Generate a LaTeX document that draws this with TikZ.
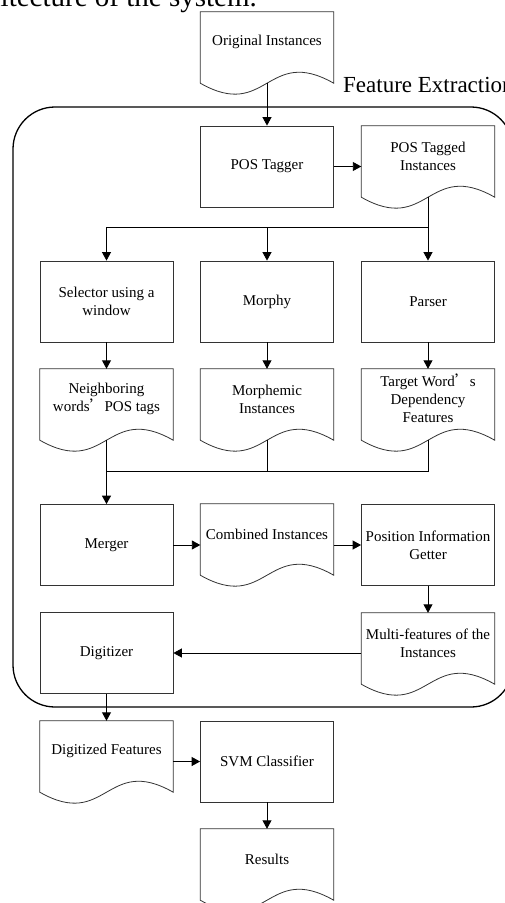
\documentclass[tikz,border=0pt]{standalone}
\usepackage{fontspec}
\setmainfont{Liberation Serif}
\newfontfamily\cjk{Noto Sans CJK SC}
\usetikzlibrary{arrows.meta,calc}
\newcommand{\docshape}[1]{\draw[docline] (#1.north west) -- (#1.north east) -- (#1.south east) .. controls ($(#1.south)+(0,38)$) and ($(#1.south)+(0,-38)$) .. (#1.south west) -- cycle;}
\begin{document}
\begin{tikzpicture}[x=1pt,y=1pt,
  procbox/.style={draw=black!80, line width=0.8pt, minimum width=133pt, minimum height=81pt, inner sep=0pt, align=center, font=\fontsize{15}{18}\selectfont},
  docframe/.style={minimum width=133pt, minimum height=71pt, inner sep=0pt},
  doctext/.style={align=center, inner sep=0pt, font=\fontsize{15}{18}\selectfont},
  docline/.style={draw=black!80, line width=0.8pt},
  conn/.style={line width=0.9pt, -{Triangle[length=8.5pt,width=9pt]}},
  plain/.style={line width=0.9pt},
  group/.style={draw=black, line width=1.3pt, rounded corners=42pt}]
\useasboundingbox (0,0) rectangle (505,-903);
\clip (0,0) rectangle (505,-903);
\fill[white] (0,0) rectangle (505,-903);

% caption fragment
\node[anchor=base east, inner sep=0pt, font=\fontsize{29}{34}\selectfont] (cap) at (257,-6) {architecture of the system.};

% group frame
\draw[group] (13,-107) rectangle (513,-707);
\node[anchor=base west, inner sep=0pt, font=\fontsize{23}{27}\selectfont] (fe) at (343,-92) {Feature Extraction};

% documents
\node[docframe] (orig) at (267,-47.5) {};
\docshape{orig}
\node[doctext] (origt) at (267,-42) {Original Instances};

\node[procbox] (tagger) at (267,-166.5) {POS Tagger};

\node[docframe] (tagged) at (428,-161.5) {};
\docshape{tagged}
\node[doctext] (taggedt) at (428,-156) {POS Tagged\\Instances};

\node[procbox] (selector) at (106.5,-301.5) {Selector using a\\window};
\node[procbox] (morphy) at (267,-301.5) {Morphy};
\node[procbox] (parser) at (428,-301.5) {Parser};

\node[docframe] (neigh) at (106.5,-404.5) {};
\docshape{neigh}
\node[doctext] (neight) at (106.5,-399) {Neighboring\\words{\cjk ’}POS tags};

\node[docframe] (morphemic) at (267,-404.5) {};
\docshape{morphemic}
\node[doctext] (morphemict) at (267,-399) {Morphemic\\Instances};

\node[docframe] (target) at (428,-404.5) {};
\docshape{target}
\node[doctext] (targett) at (428,-398) {Target Word{\cjk ’}s\\Dependency\\Features};

\node[procbox] (merger) at (106.5,-545) {Merger};

\node[docframe] (combined) at (267,-539.5) {};
\docshape{combined}
\node[doctext] (combinedt) at (267,-534) {Combined Instances};

\node[procbox] (position) at (428,-545) {Position Information\\Getter};

\node[procbox] (digitizer) at (106.5,-653) {Digitizer};

\node[docframe] (multi) at (428,-648.5) {};
\docshape{multi}
\node[doctext] (multit) at (428,-643) {Multi-features of the\\Instances};

\node[docframe] (digitized) at (106.5,-756.5) {};
\docshape{digitized}
\node[doctext] (digitizedt) at (106.5,-751) {Digitized Features};

\node[procbox] (svm) at (267,-761.5) {SVM Classifier};

\node[docframe] (results) at (267,-864.5) {};
\docshape{results}
\node[doctext] (resultst) at (267,-859) {Results};

% connectors
\draw[conn] (orig.south) -- (tagger.north);
\draw[conn] (tagger.east) -- (tagger.east -| tagged.west);
\coordinate (split) at (428,-227);
\draw[plain] (tagged.south) -- (split) -- (split -| selector.north);
\draw[conn] (split -| selector.north) -- (selector.north);
\draw[conn] (split -| morphy.north) -- (morphy.north);
\draw[conn] (split) -- (parser.north);
\draw[conn] (selector.south) -- (neigh.north);
\draw[conn] (morphy.south) -- (morphemic.north);
\draw[conn] (parser.south) -- (target.north);
\coordinate (merge) at (106.5,-471);
\draw[plain] (neigh.south) -- (merge);
\draw[plain] (morphemic.south) -- (morphemic.south |- merge);
\draw[plain] (target.south) -- (target.south |- merge) -- (merge);
\draw[conn, line width=1.3pt] (merge) -- (merger.north);
\draw[conn] (merger.east) -- (merger.east -| combined.west);
\draw[conn] (combined.east |- position.west) -- (position.west);
\draw[conn] (position.south) -- (multi.north);
\draw[conn] (multi.west |- digitizer.east) -- (digitizer.east);
\draw[conn] (digitizer.south) -- (digitized.north);
\draw[conn] (digitized.east |- svm.west) -- (svm.west);
\draw[conn] (svm.south) -- (results.north);
\end{tikzpicture}
\end{document}
